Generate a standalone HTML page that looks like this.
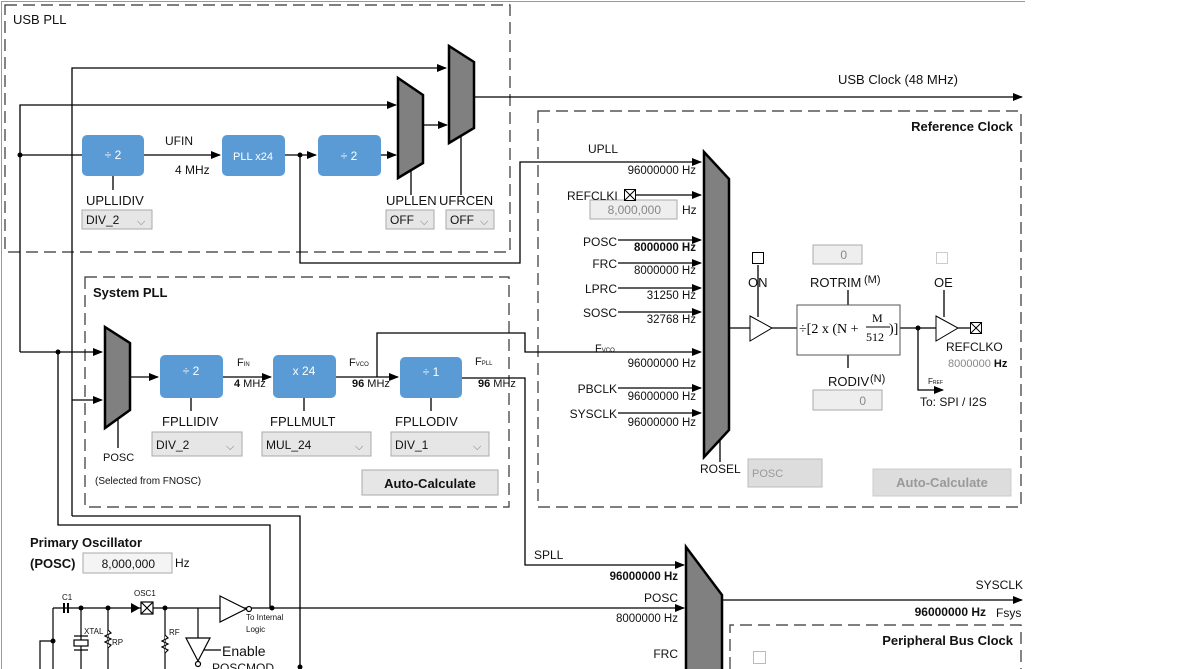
<!DOCTYPE html>
<html><head><meta charset="utf-8"><style>
html,body{margin:0;padding:0;background:#fff;}
svg{display:block;font-family:"Liberation Sans",sans-serif;}
</style></head><body>
<svg width="1200" height="669" viewBox="0 0 1200 669" xmlns="http://www.w3.org/2000/svg">
<defs>
<marker id="a" markerWidth="10" markerHeight="8" refX="9" refY="4" orient="auto" markerUnits="userSpaceOnUse"><path d="M0,0 L10,4 L0,8 z" fill="#000"/></marker>
</defs>
<rect width="1200" height="669" fill="#fff"/>
<path d="M1.5,669 V1.5 H1025" stroke="#999" fill="none"/>
<g fill="none" stroke="#333" stroke-width="1.2" stroke-dasharray="12,6">
<rect x="5" y="5" width="505" height="247"/>
<rect x="85" y="277" width="424" height="230"/>
<rect x="538" y="111" width="483" height="396"/>
<path d="M730,669 V625 H1021 V669"/>
</g>
<g font-size="13" fill="#111">
<text x="13" y="24">USB PLL</text>
<text x="93" y="297" font-weight="bold">System PLL</text>
<text x="1013" y="131" font-weight="bold" text-anchor="end">Reference Clock</text>
<text x="1013" y="645" font-weight="bold" text-anchor="end">Peripheral Bus Clock</text>
</g>

<g stroke="#000" stroke-width="1.3" fill="none">
<path d="M72,516 V68 H446" marker-end="url(#a)"/>
<path d="M20,352 V105 H396" marker-end="url(#a)"/>
<path d="M20,155 H82"/>
<path d="M144,155 H220" marker-end="url(#a)"/>
<path d="M285,155 H316" marker-end="url(#a)"/>
<path d="M381,155 H396" marker-end="url(#a)"/>
<path d="M423,125 H447" marker-end="url(#a)"/>
<path d="M474,97 H1022" marker-end="url(#a)"/>
<path d="M300,155 V263 H520 V162 H701" marker-end="url(#a)"/>
<path d="M113,176 V190 M411,170 V195 M461,136 V195"/>
<path d="M20,352 H102" marker-end="url(#a)"/>
<path d="M58,352 V525 H270 V608"/>
<path d="M72,400 H102" marker-end="url(#a)"/>
<path d="M72,516 H300 V669"/>
<path d="M130,377 H158" marker-end="url(#a)"/>
<path d="M223,377 H271" marker-end="url(#a)"/>
<path d="M336,377 H398" marker-end="url(#a)"/>
<path d="M377,377 V333 H525 V352 H701" marker-end="url(#a)"/>
<path d="M462,378 H525 V565 H684" marker-end="url(#a)"/>
<path d="M191,398 V411 M304,398 V411 M431,398 V411 M118,419 V448"/>
<path d="M631,195 H701" marker-end="url(#a)"/>
<path d="M618,240 H701" marker-end="url(#a)"/>
<path d="M618,263 H701" marker-end="url(#a)"/>
<path d="M618,288 H701" marker-end="url(#a)"/>
<path d="M618,312 H701" marker-end="url(#a)"/>
<path d="M618,388 H701" marker-end="url(#a)"/>
<path d="M618,413 H701" marker-end="url(#a)"/>
<path d="M729,328 H750 M772,328 H797 M900,328 H936 M958,328 H970"/>
<path d="M918,328 V390 H943" marker-end="url(#a)"/>
<path d="M758,265 V317 M848,290 V305 M848,355 V368 M944,290 V317 M720,440 V462"/>
<path d="M53,608 H684" marker-end="url(#a)"/>
<path d="M722,600 H1022" marker-end="url(#a)"/>
</g>
<g fill="#000">
<circle cx="20" cy="155" r="2.5"/><circle cx="300" cy="155" r="2.5"/>
<circle cx="58" cy="352" r="2.5"/><circle cx="918" cy="328" r="2.5"/>
<circle cx="272" cy="608" r="2.5"/><circle cx="81" cy="608" r="2.5"/><circle cx="108" cy="608" r="2.5"/><circle cx="165" cy="608" r="2.5"/><circle cx="53" cy="641" r="2.5"/><circle cx="300" cy="667" r="2.5"/>
</g>
<g fill="#808080" stroke="#000" stroke-width="2.5">
<path d="M398,78 L423,95 L423,163 L398,178 Z"/>
<path d="M449,46 L474,62 L474,128 L449,143 Z"/>
<path d="M105,327 L130,343 L130,410 L105,428 Z"/>
<path d="M704,152 L729,179 L729,430 L704,457 Z"/>
<path d="M686,547 L722,595 L722,675 L686,675 Z"/>
</g>
<g fill="#5b9bd5">
<rect x="82" y="135" width="62" height="41" rx="5"/>
<rect x="222" y="135" width="63" height="41" rx="5"/>
<rect x="318" y="135" width="63" height="41" rx="5"/>
<rect x="160" y="355" width="63" height="43" rx="5"/>
<rect x="273" y="355" width="63" height="43" rx="5"/>
<rect x="400" y="357" width="62" height="41" rx="5"/>
</g>
<g fill="#fff" font-size="12" text-anchor="middle">
<text x="113" y="159">÷  2</text><text x="253" y="160" font-size="11">PLL x24</text><text x="349" y="160">÷ 2</text>
<text x="191" y="375">÷  2</text><text x="304" y="375">x 24</text><text x="431" y="376">÷ 1</text>
</g>
<g fill="#e6e6e6" stroke="#aaa">
<rect x="82" y="210" width="70" height="19"/><rect x="386" y="210" width="48" height="19"/><rect x="446" y="210" width="48" height="19"/>
<rect x="152" y="432" width="90" height="24"/><rect x="262" y="432" width="109" height="24"/><rect x="391" y="432" width="98" height="24"/>
<rect x="362" y="470" width="136" height="25"/>
<rect x="748" y="459" width="74" height="28" fill="#ddd" stroke="#bbb"/>
<rect x="873" y="469" width="138" height="27" fill="#ddd" stroke="#ccc"/>
<rect x="590" y="200" width="87" height="19" fill="#eee"/>
<rect x="813" y="245" width="49" height="19" fill="#eee"/>
<rect x="813" y="390" width="69" height="20" fill="#eee"/>
<rect x="83" y="553" width="89" height="20" fill="#f4f4f4"/>
</g>
<g font-size="12" fill="#111">
<text x="86" y="224">DIV_2</text><text x="390" y="224">OFF</text><text x="450" y="224">OFF</text>
<text x="156" y="449">DIV_2</text><text x="266" y="449">MUL_24</text><text x="395" y="449">DIV_1</text>
<text x="430" y="488" font-weight="bold" font-size="13" text-anchor="middle">Auto-Calculate</text>
<text x="942" y="487" font-weight="bold" font-size="13" text-anchor="middle" fill="#999">Auto-Calculate</text>
<text x="752" y="477" font-size="11" fill="#999">POSC</text>
<text x="661" y="214" text-anchor="end" fill="#888">8,000,000</text>
<text x="847" y="259" text-anchor="end" fill="#888">0</text>
<text x="866" y="405" text-anchor="end" fill="#888">0</text>
<text x="155" y="568" text-anchor="end">8,000,000</text>
<text x="175" y="567">Hz</text>
<text x="682" y="214">Hz</text>
</g>
<g font-size="11" fill="#777">
<text x="137" y="225">⌵</text><text x="420" y="225">⌵</text><text x="480" y="225">⌵</text>
<text x="226" y="450">⌵</text><text x="355" y="450">⌵</text><text x="473" y="450">⌵</text>
</g>
<g font-size="13" fill="#111">
<text x="165" y="145" font-size="12">UFIN</text><text x="175" y="174" font-size="12">4 MHz</text>
<text x="86" y="205">UPLLIDIV</text><text x="386" y="205">UPLLEN</text><text x="439" y="205">UFRCEN</text>
<text x="838" y="84" font-size="13">USB Clock (48 MHz)</text>
<text x="237" y="366" font-size="11">F<tspan font-size="6">IN</tspan></text><text x="234" y="387" font-size="11"><tspan font-weight="bold">4</tspan> MHz</text>
<text x="349" y="366" font-size="11">F<tspan font-size="6">VCO</tspan></text><text x="352" y="387" font-size="11"><tspan font-weight="bold">96</tspan> MHz</text>
<text x="475" y="365" font-size="11">F<tspan font-size="6">PLL</tspan></text><text x="478" y="387" font-size="11"><tspan font-weight="bold">96</tspan> MHz</text>
<text x="162" y="426">FPLLIDIV</text><text x="270" y="426">FPLLMULT</text><text x="395" y="426">FPLLODIV</text>
<text x="103" y="461" font-size="11">POSC</text>
<text x="95" y="484" font-size="10">(Selected from FNOSC)</text>
<text x="588" y="153" font-size="12">UPLL</text>
<text x="567" y="200" font-size="12">REFCLKI</text>
<g font-size="12" text-anchor="end"><text x="617" y="246">POSC</text><text x="617" y="268">FRC</text><text x="617" y="293">LPRC</text><text x="617" y="317">SOSC</text><text x="617" y="393">PBCLK</text><text x="617" y="418">SYSCLK</text></g>
<text x="595" y="352" font-size="11">F<tspan font-size="6">VCO</tspan></text>
<g font-size="11.5" text-anchor="end"><text x="696" y="174">96000000 Hz</text><text x="696" y="251" font-weight="bold">8000000 Hz</text><text x="696" y="274">8000000 Hz</text><text x="696" y="299">31250 Hz</text><text x="696" y="323">32768 Hz</text><text x="696" y="367">96000000 Hz</text><text x="696" y="400">96000000 Hz</text><text x="696" y="426">96000000 Hz</text></g>
<text x="748" y="287">ON</text><text x="810" y="287">ROTRIM</text><text x="864" y="283" font-size="11">(M)</text>
<text x="934" y="287">OE</text>
<text x="828" y="386">RODIV</text><text x="870" y="382" font-size="11">(N)</text>
<text x="946" y="351" font-size="12">REFCLKO</text>
<text x="948" y="367" font-size="11" fill="#888">8000000 <tspan fill="#111" font-weight="bold">Hz</tspan></text>
<text x="928" y="384" font-size="8">F<tspan font-size="5">REF</tspan></text>
<text x="920" y="406" font-size="12">To: SPI / I2S</text>
<text x="700" y="473" font-size="12">ROSEL</text>
<text x="30" y="547" font-weight="bold">Primary Oscillator</text>
<text x="30" y="568" font-weight="bold">(POSC)</text>
<text x="534" y="559" font-size="12">SPLL</text>
<text x="678" y="580" font-size="11.5" text-anchor="end" font-weight="bold">96000000 Hz</text>
<text x="678" y="602" font-size="12" text-anchor="end">POSC</text>
<text x="678" y="622" font-size="11.5" text-anchor="end">8000000 Hz</text>
<text x="678" y="658" font-size="12" text-anchor="end">FRC</text>
<text x="1023" y="589" font-size="12" text-anchor="end">SYSCLK</text>
<text x="986" y="616" font-size="12" text-anchor="end" font-weight="bold">96000000 Hz</text>
<text x="996" y="617" font-size="12">Fsys</text>
</g>
<g stroke="#000" fill="#fff" stroke-width="1">
<path d="M750,316 L772,328 L750,341 Z"/>
<path d="M936,316 L958,328 L936,341 Z"/>
<rect x="797" y="305" width="103" height="50" stroke="#555"/>
<rect x="752.5" y="252.5" width="11" height="11"/>
<rect x="936.5" y="252.5" width="11" height="11" stroke="#ccc"/>
<rect x="970.5" y="322.5" width="11" height="11"/><path d="M970.5,322.5 l11,11 M981.5,322.5 l-11,11"/>
<rect x="624.5" y="189.5" width="11" height="11"/><path d="M624.5,189.5 l11,11 M635.5,189.5 l-11,11"/>
<rect x="753.5" y="651.5" width="12" height="12" stroke="#bbb"/>
</g>
<text x="799" y="333" font-family="Liberation Serif,serif" font-size="14">÷[2 x (N +</text>
<text x="872" y="322" font-family="Liberation Serif,serif" font-size="12">M</text>
<line x1="866" y1="327" x2="890" y2="327" stroke="#000"/>
<text x="866" y="341" font-family="Liberation Serif,serif" font-size="12">512</text>
<text x="889" y="333" font-family="Liberation Serif,serif" font-size="14">)]</text>
<g stroke="#000" fill="none" stroke-width="1.2">
<path d="M53,608 V669 M53,641 H40 V669"/>
<path d="M81,608 V669 M108,608 V669 M165,608 V669"/>
<path d="M64,603 V613 M68,603 V613" stroke-width="2"/>
<rect x="74" y="640" width="14" height="6" fill="#fff"/>
<path d="M74,636 H88 M74,650 H88"/>
<path d="M108,630 l3,3 -6,3 6,3 -6,3 6,3 -3,3" fill="#fff"/>
<path d="M165,635 l3,3 -6,3 6,3 -6,3 6,3 -3,3" fill="#fff"/>
<rect x="141" y="602" width="12" height="12" fill="#fff"/><path d="M141,602 l12,12 M153,602 l-12,12"/>
<path d="M220,596 L246,609 L220,622 Z" fill="#fff"/>
<circle cx="249" cy="609" r="2.5" fill="#fff"/>
<path d="M198,608 V638 M186,638 H210 L198,661 Z" fill="#fff"/>
<circle cx="198" cy="664" r="2.5" fill="#fff"/>
<path d="M204,650 H221"/>
</g>
<path d="M131,603 L140,608 L131,613 Z" fill="#000"/>
<g font-size="8" fill="#111"><text x="62" y="600">C1</text><text x="134" y="596">OSC1</text><text x="84" y="634">XTAL</text><text x="112" y="645">RP</text><text x="169" y="635">RF</text><text x="246" y="620">To Internal</text><text x="246" y="632">Logic</text></g>
<text x="222" y="656" font-size="14" fill="#111">Enable</text>
<text x="212" y="672" font-size="12" fill="#111">POSCMOD</text>
</svg>
</body></html>
